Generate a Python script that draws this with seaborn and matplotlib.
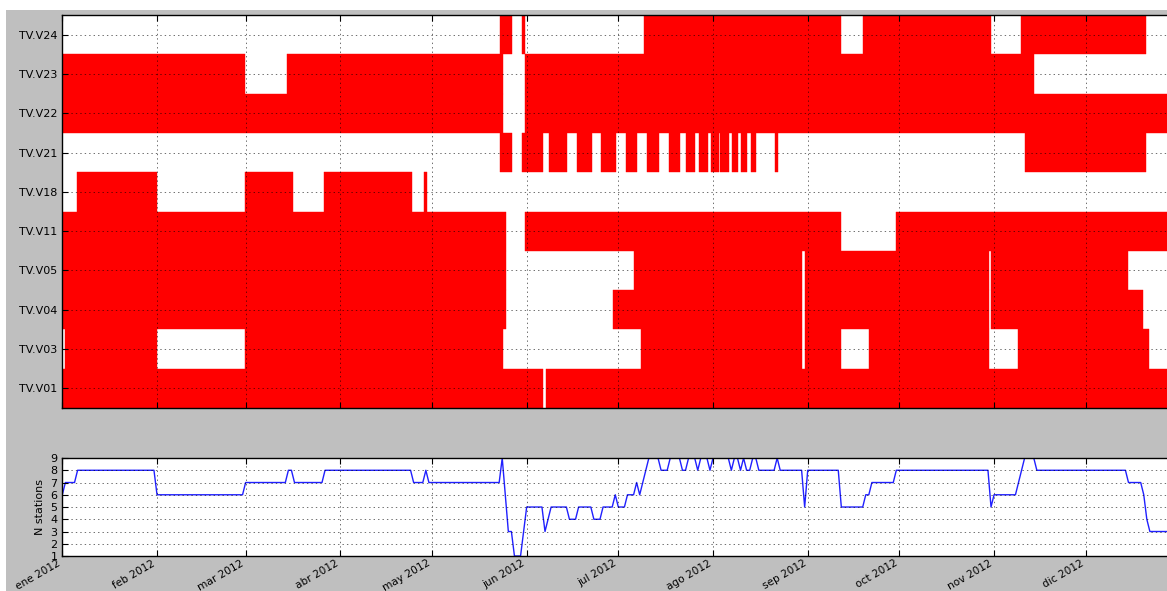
import numpy as np
import pandas as pd
import matplotlib
matplotlib.use('Agg')
import matplotlib.pyplot as plt
import matplotlib.dates as mdates
from matplotlib.patches import Rectangle
import seaborn as sns


STATIONS = ['TV.V01', 'TV.V03', 'TV.V04', 'TV.V05', 'TV.V11',
            'TV.V18', 'TV.V21', 'TV.V22', 'TV.V23', 'TV.V24']

# periods with data, (start, end) in days since 1 Jan 2012
V01 = [(0, 157.3), (158.3, 366)]
V03 = [(0.9, 30.9), (59.8, 144.4), (189.3, 242.1), (243.1, 255.0),
       (264.2, 303.2), (312.9, 355.8)]
V04 = [(0, 145.3), (180.4, 242.1), (243.1, 303.2), (304.1, 353.7)]
V05 = [(0, 145.3), (187.2, 242.1), (243.1, 303.2), (304.1, 348.9)]
V11 = [(0, 145.3), (151.5, 255.0), (273.0, 366)]
V18 = [(4.9, 30.9), (59.8, 75.4), (85.7, 114.6), (118.5, 119.3)]
V21 = [(143.3, 147.3), (150.5, 157.3), (159.3, 165.3), (168.5, 173.3),
       (176.3, 181.3), (184.5, 188.1), (191.3, 195.3), (198.5, 202.2),
       (204.3, 207.2), (208.4, 211.3), (212.3, 215.1), (215.4, 218.1),
       (219.3, 221.2), (222.3, 224.0), (225.4, 227.1), (233.2, 234.2),
       (315.0, 354.8)]
V22 = [(0, 144.4), (151.5, 366)]
V23 = [(0, 59.8), (73.6, 144.4), (151.5, 318.1)]
V24 = [(143.4, 147.3), (150.5, 151.4), (190.3, 255.0), (262.1, 304.1),
       (313.9, 354.8)]

PERIODS = [V01, V03, V04, V05, V11, V18, V21, V22, V23, V24]
MONTHS = ['ene', 'feb', 'mar', 'abr', 'may', 'jun',
          'jul', 'ago', 'sep', 'oct', 'nov', 'dic']
YEAR = 2012


def main():
    plt.rcParams['font.family'] = 'DejaVu Sans'
    plt.rcParams['font.size'] = 8
    plt.rcParams['lines.scale_dashes'] = False

    t0 = mdates.date2num(pd.Timestamp(f'{YEAR}-01-01'))
    days = np.arange(366)
    n_stations = np.array([
        sum(any(s <= d < e for s, e in per) for per in PERIODS) for d in days
    ])
    df = pd.DataFrame({'date': t0 + days, 'n': n_stations})

    fig = plt.figure(figsize=(11.67, 5.91), dpi=100, facecolor='white')
    fig.add_artist(Rectangle((6 / 1167, 0), 1, 581 / 591, transform=fig.transFigure,
                             facecolor='#bfbfbf', edgecolor='none', zorder=-10))

    ax1 = fig.add_axes([0.0534, 0.3096, 0.9581, 0.665])
    ax2 = fig.add_axes([0.0534, 0.0592, 0.9581, 0.1658], sharex=ax1)

    for i, per in enumerate(PERIODS):
        ax1.broken_barh([(t0 + s, e - s) for s, e in per], (i - 0.5, 1),
                        facecolors='red', edgecolors='red', linewidth=0.3)
    ax1.set_ylim(-0.5, len(STATIONS) - 0.5)
    ax1.set_yticks(range(len(STATIONS)))
    ax1.set_yticklabels(STATIONS)

    sns.lineplot(data=df, x='date', y='n', ax=ax2, color='#2020ff',
                 linewidth=1, estimator=None)
    ax2.set_ylim(1, 9)
    ax2.set_yticks(range(1, 10))
    ax2.set_ylabel('N stations')
    ax2.set_xlabel('')

    month_starts = mdates.date2num(pd.date_range(f'{YEAR}-01-01', periods=12, freq='MS'))
    ax2.set_xticks(month_starts)
    ax2.set_xticklabels([f'{m} {YEAR}' for m in MONTHS], rotation=30, ha='right',
                        fontsize=7.6)
    ax2.set_xlim(t0, t0 + 366)

    for ax in (ax1, ax2):
        ax.set_facecolor('white')
        ax.set_axisbelow(False)
        ax.grid(True, color='black', linestyle=(0, (1, 2.2)), linewidth=0.5, alpha=0.8)
        ax.tick_params(direction='in', top=True, right=True, length=4)
        for sp in ax.spines.values():
            sp.set_color('black')
            sp.set_linewidth(1)
    ax1.tick_params(labelbottom=False)
    ax2.tick_params(axis='x', pad=1.5)

    fig.savefig('out.png', dpi=100, facecolor=fig.get_facecolor())


if __name__ == '__main__':
    main()
